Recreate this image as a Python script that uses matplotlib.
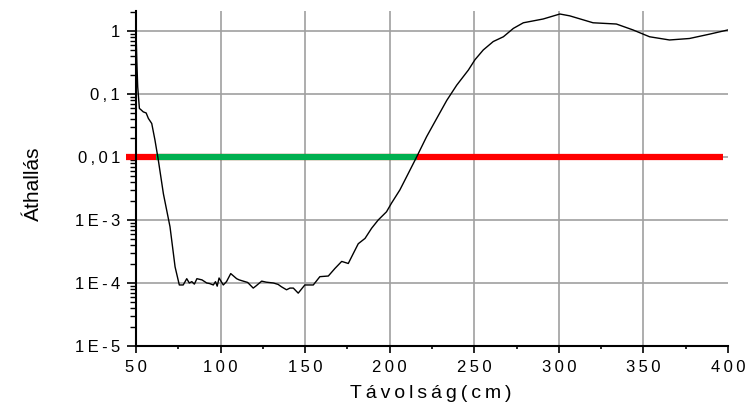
import matplotlib
matplotlib.use("Agg")
import matplotlib.pyplot as plt
from matplotlib.ticker import LogLocator, FixedLocator, MultipleLocator, NullFormatter

# --- DATOS ---
tavolsag = [50, 50.5, 51, 52, 53, 54.3, 56, 57.3, 59.3, 61.2, 63.2, 66.2, 70.1, 73.1,
            75.6, 77.9, 80, 81.5, 83, 84.5, 86, 89, 91.8, 93.5, 95.7, 97, 98, 99.1, 101.6,
            103.5, 106, 109.5, 111, 113.4, 116, 119.3, 121, 124.3, 127, 131.2, 134, 136,
            139, 141, 143, 145.9, 149.8, 154.8, 158.7, 163.7, 167.6, 171.6, 175.5, 178.5,
            181.4, 185.4, 189.3, 193.2, 198.1, 201.1, 206, 211, 215.9, 221.8, 227.8,
            233.7, 239.6, 246.5, 250.4, 255.3, 261.2, 267.2, 273.1, 279, 290.7, 300.6,
            306.4, 320.2, 334, 343.8, 353.6, 365.4, 377.2, 389, 400]
athallas = [1.0, 0.32, 0.13, 0.059, 0.056, 0.052, 0.050, 0.041, 0.034, 0.0186, 0.0089,
            0.0026, 7.8e-4, 1.8e-4, 9.3e-5, 9.3e-5, 1.17e-4, 1.0e-4, 1.05e-4, 9.6e-5,
            1.17e-4, 1.12e-4, 1.0e-4, 9.8e-5, 9.3e-5, 1.05e-4, 8.9e-5, 1.2e-4, 9.3e-5,
            1.05e-4, 1.41e-4, 1.17e-4, 1.12e-4, 1.07e-4, 1.02e-4, 8.3e-5, 9.0e-5, 1.07e-4,
            1.03e-4, 1.0e-4, 9.5e-5, 8.7e-5, 7.8e-5, 8.3e-5, 8.3e-5, 6.9e-5, 9.3e-5,
            9.3e-5, 1.26e-4, 1.29e-4, 1.7e-4, 2.2e-4, 2.04e-4, 2.95e-4, 4.2e-4, 5.1e-4,
            7.4e-4, 1.0e-3, 1.35e-3, 1.86e-3, 3.0e-3, 5.5e-3, 0.010, 0.021, 0.041, 0.079,
            0.138, 0.24, 0.35, 0.50, 0.68, 0.81, 1.10, 1.35, 1.55, 1.86, 1.74, 1.35, 1.29,
            1.04, 0.81, 0.72, 0.76, 0.89, 1.04]

kuszob = 0.01
piros_x = [44, 397]      # tramo rojo completo
zold_x = [61.8, 216]     # tramo verde (bajo el umbral)

y_ticks = [1e-5, 1e-4, 1e-3, 1e-2, 1e-1, 1]
y_labels = ["1E-5", "1E-4", "1E-3", "0,01", "0,1", "1"]
x_ticks = [50, 100, 150, 200, 250, 300, 350, 400]

def espaciar(s):
    return "\u2009".join(s)

plt.rcParams['font.family'] = ['Liberation Sans', 'DejaVu Sans']

fig = plt.figure(figsize=(7.51, 4.08), dpi=100)
ax = fig.add_axes([0.1811, 0.152, 0.9694 - 0.1811, 0.9738 - 0.152])

ax.set_yscale('log')
ax.set_xlim(50, 400)
ax.set_ylim(1e-5, 2.1)

# rejilla gris
for xv in x_ticks[1:-1]:
    ax.axvline(xv, color='#a0a0a0', lw=1.2, zorder=0)
for yv in y_ticks[1:]:
    ax.axhline(yv, color='#a0a0a0', lw=1.2, zorder=0)

# umbral rojo y verde
ax.plot(piros_x, [kuszob, kuszob], color='#ff0000', lw=4.5, solid_capstyle='butt',
        clip_on=False, zorder=2)
ax.plot(zold_x, [kuszob, kuszob], color='#00b050', lw=4.5, solid_capstyle='butt',
        zorder=3)

# curva
ax.plot(tavolsag, athallas, color='black', lw=1.0, zorder=4)

for s in ['top', 'right']:
    ax.spines[s].set_visible(False)
for s in ['left', 'bottom']:
    ax.spines[s].set_linewidth(1.5)

ax.xaxis.set_major_locator(FixedLocator(x_ticks))
ax.xaxis.set_minor_locator(MultipleLocator(25))
ax.set_xticklabels([espaciar(str(v)) for v in x_ticks])
ax.yaxis.set_major_locator(FixedLocator(y_ticks))
ax.set_yticklabels([espaciar(t) for t in y_labels])
ax.yaxis.set_minor_locator(LogLocator(base=10, subs=range(2, 10), numticks=20))
ax.yaxis.set_minor_formatter(NullFormatter())

ax.tick_params(axis='x', which='major', direction='out', length=5, width=1.2,
               labelsize=12, colors='black', pad=5)
ax.tick_params(axis='x', which='minor', direction='out', length=2.5, width=1.2)
ax.tick_params(axis='y', which='major', direction='out', length=6.5, width=1.2,
               labelsize=12, colors='black', pad=5)
ax.tick_params(axis='y', which='minor', direction='out', length=4, width=1.0)

ax.set_xlabel(espaciar("Távolság(cm)"), fontsize=14)
ax.xaxis.set_label_coords(0.498, -0.116)
ax.set_ylabel("Áthallás", fontsize=15)
ax.yaxis.set_label_coords(-0.158, 0.483)

fig.savefig("out.png", dpi=100)
